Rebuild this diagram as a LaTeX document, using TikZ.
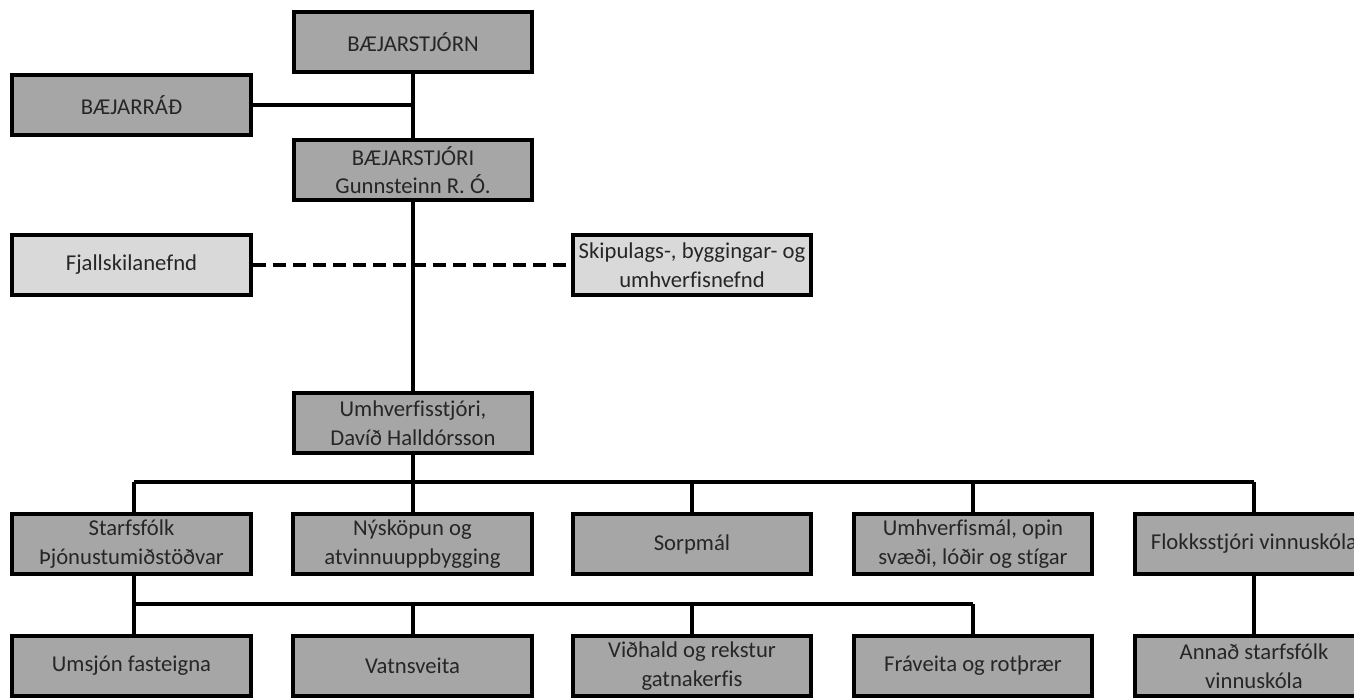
\documentclass[tikz,border=0pt]{standalone}
\usepackage{fontspec}
\setmainfont{Carlito}[Ligatures={NoCommon,NoContextual}]
\definecolor{boxdark}{HTML}{A6A6A6}
\definecolor{boxlight}{HTML}{D9D9D9}
\begin{document}
\begin{tikzpicture}[x=0.75pt,y=-0.75pt,
  orgbox/.style={draw=black,line width=3pt,fill=boxdark,minimum width=179pt,minimum height=45.5pt,
    inner sep=0pt,align=center,text=black!85,font=\fontsize{17}{21.5}\selectfont},
  lightbox/.style={orgbox,fill=boxlight},
  conn/.style={line width=3pt},
  dashconn/.style={line width=3pt,dash pattern=on 10pt off 5pt}]
\useasboundingbox (0,0) rectangle (1354,697);
\clip (0,0) rectangle (1354,697);
\fill[white] (0,0) rectangle (1354,697);
% nodes
\node[orgbox] (bstjorn) at (413,42) {BÆJARSTJÓRN};
\node[orgbox] (brad) at (131.5,105) {BÆJARRÁÐ};
\node[orgbox] (bstjori) at (413,170) {BÆJARSTJÓRI\\Gunnsteinn R. Ó.};
\node[lightbox] (fjall) at (131.5,265) {Fjallskilanefnd};
\node[lightbox] (skip) at (692,265) {Skipulags-, byggingar- og\\umhverfisnefnd};
\node[orgbox] (umhv) at (413,423) {Umhverfisstjóri,\\Davíð Halldórsson};
\node[orgbox] (starf) at (131.5,544) {Starfsfólk\\Þjónustumiðstöðvar};
\node[orgbox] (nysk) at (412.5,544) {Nýsköpun og\\atvinnuuppbygging};
\node[orgbox] (sorp) at (692,544) {Sorpmál};
\node[orgbox] (umhvm) at (973,544) {Umhverfismál, opin\\svæði, lóðir og stígar};
\node[orgbox] (flokk) at (1254,544) {Flokksstjóri vinnuskóla};
\node[orgbox] (umsj) at (131.5,666) {Umsjón fasteigna};
\node[orgbox] (vatn) at (412.5,666) {Vatnsveita};
\node[orgbox] (vidh) at (692,666) {Viðhald og rekstur\\gatnakerfis};
\node[orgbox] (frav) at (973,666) {Fráveita og rotþrær};
\node[orgbox] (annad) at (1254,666) {Annað starfsfólk\\vinnuskóla};
% coordinates
\coordinate (bus1) at (413,482);
\coordinate (bus2) at (134,604);
% connectors
\draw[conn] (bstjorn.south) -- (bstjori.north);
\draw[conn] (brad.east) -- (brad.east -| bstjorn.south);
\draw[conn] (bstjori.south) -- (umhv.north);
\draw[dashconn] (fjall.east) -- (skip.west);
\draw[conn] (umhv.south) -- (bus1);
\draw[conn] (bus2 |- bus1) -- (flokk.north |- bus1);
\foreach \n in {nysk,sorp,umhvm,flokk}{\draw[conn] (\n.north |- bus1) -- (\n.north);}
\draw[conn] (bus2 |- bus1) -- (bus2 |- starf.north);
\draw[conn] (bus2 |- starf.south) -- (bus2);
\draw[conn] (bus2) -- (frav.north |- bus2);
\draw[conn] (bus2) -- (bus2 |- umsj.north);
\foreach \n in {vatn,vidh,frav}{\draw[conn] (\n.north |- bus2) -- (\n.north);}
\draw[conn] (flokk.south) -- (annad.north);
\end{tikzpicture}
\end{document}
